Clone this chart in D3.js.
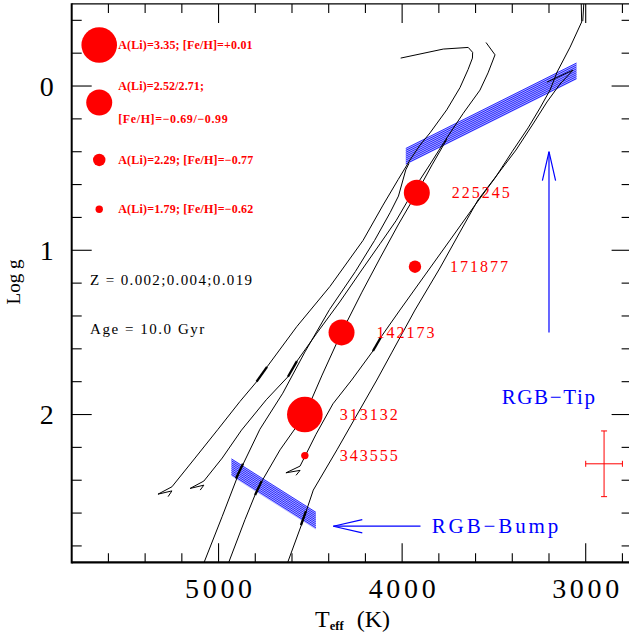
<!DOCTYPE html>
<html>
<head>
<meta charset="utf-8">
<script src="https://cdn.jsdelivr.net/npm/d3@7"></script>
<style>
  html, body { margin: 0; padding: 0; background: #fff; }
  svg { display: block; }
</style>
</head>
<body>
<svg id="chart" width="629" height="637"></svg>
<script>
// ---------------- data ----------------
// axis ticks
const xTickLabels = [5000, 4000, 3000];
const yTickLabels = [0, 1, 2];

// 10 Gyr isochrones, Z = 0.002 / 0.004 / 0.019, points as [Teff (K), log g]
const rgbZ002 = [[5100,2.96],[4980,2.62],[4887,2.35],[4775,2.09],[4650,1.87],[4530,1.62],[4395,1.36],[4255,1.13],[4150,0.94],[4065,0.77],[4020,0.67],[3980,0.51],[3962,0.47]];
const agbZ002 = [[5275,2.50],[5254,2.465],[5330,2.485],[5254,2.44],[5128,2.265],[5003,2.09],[4883,1.92],[4785,1.79],[4736,1.71],[4574,1.465],[4393,1.22],[4213,0.94],[4104,0.725],[4022,0.57],[3957,0.45],[3903,0.36],[3848,0.285],[3757,0.145],[3685,0.01],[3641,-0.10],[3617,-0.17],[3616,-0.205],[3640,-0.235],[3776,-0.225],[4008,-0.17]];
const rgbZ004 = [[4965,2.96],[4856,2.64],[4787,2.45],[4665,2.215],[4529,2.00],[4436,1.76],[4330,1.50],[4219,1.255],[4120,1.047],[4022,0.846],[3920,0.65],[3837,0.48],[3756,0.323]];
const agbZ004 = [[5100,2.46],[5080,2.43],[5155,2.45],[5080,2.405],[4980,2.265],[4875,2.095],[4740,1.91],[4622,1.77],[4573,1.675],[4465,1.505],[4340,1.315],[4220,1.12],[4120,0.96],[4033,0.82],[3973,0.705],[3914,0.59],[3854,0.487],[3799,0.39],[3750,0.305],[3667,0.166],[3576,0.025],[3532,-0.08],[3494,-0.19],[3543,-0.265]];
const rgbZ019 = [[4643,2.96],[4538,2.64],[4484,2.46],[4355,2.215],[4138,1.79],[4055,1.62],[3930,1.364],[3794,1.108],[3685,0.889],[3587,0.694],[3483,0.542],[3380,0.39],[3287,0.231],[3211,0.097],[3140,-0.012],[3069,-0.097],[3211,-0.024]];
const agbZ019 = [[4578,2.37],[4556,2.34],[4633,2.355],[4556,2.314],[4469,2.12],[4377,1.935],[4275,1.79],[4159,1.613],[4115,1.528],[4012,1.364],[3875,1.15],[3739,0.938],[3603,0.725],[3494,0.56],[3401,0.40],[3314,0.255],[3249,0.134],[3194,0.024],[3156,-0.085],[3085,-0.237],[3022,-0.39],[3026,-0.585],[3006,-0.585],[3016,-0.395]];

// RGB bump and AGB clump stretches, traced over more heavily
const bumpSegments = [
  [[4905,2.39],[4867,2.30]],
  [[4801,2.49],[4765,2.405]],
  [[4551,2.673],[4524,2.588]],
  [[4793,1.80],[4736,1.71]],
  [[4622,1.77],[4573,1.675]],
  [[4159,1.613],[4115,1.528]]
];

// predicted loci: RGB tip and RGB bump (upper edge at both ends, band depth in log g)
const tipBandTeff = [3980, 3050];
const tipBandLogg = [0.38, -0.14];
const tipBandDepth = 0.10;
const bumpBandTeff = [4930, 4470];
const bumpBandLogg = [2.27, 2.595];
const bumpBandDepth = 0.105;

// Li-rich stars
const starNames = ["225245", "171877", "142173", "313132", "343555"];
const starTeff  = [3920, 3930, 4330, 4530, 4530];
const starLogg  = [0.65, 1.10, 1.50, 2.00, 2.25];
const starClass = [1, 2, 1, 0, 3];   // row of the abundance key

// abundance key
const keyLi   = ["3.35", "2.52/2.71", "2.29", "1.79"];
const keyFeH  = ["+0.01", "\u22120.69/\u22120.99", "\u22120.77", "\u22120.62"];
const keyLogg = [-0.25, 0.10, 0.45, 0.75];
const keyTeff = 5650;

// model notes
const noteLines = ["Z = 0.002;0.004;0.019", "Age = 10.0 Gyr"];
const noteLogg  = [1.18, 1.48];
const noteTeff  = 5700;

// typical uncertainty
const errTeff = 2900, errLogg = 2.3, errDTeff = 100, errDLogg = 0.2;

// arrows and their labels
const tipArrowTeff = 3200, tipArrowLogg = [1.50, 0.40];      // tail, head
const bumpArrowLogg = 2.68, bumpArrowTeff = [3900, 4375];    // tail, head
const tipLabel  = {text: "RGB\u2212Tip",  teff: 3458, logg: 1.893};
const bumpLabel = {text: "RGB\u2212Bump", teff: 3839, logg: 2.681};

// ---------------- drawing ----------------
const W = 629, H = 637;
const serif = "'Liberation Serif', 'Times New Roman', serif";
const red = "#ff0000", blue = "#0000ff";

const svg = d3.select("#chart");
svg.append("rect").attr("width", W).attr("height", H).attr("fill", "#fff");

const x = d3.scaleLinear().domain([5800, 2750]).range([71.7, 631.6]);
const y = d3.scaleLinear().domain([-0.5, 2.9]).range([3.9, 562.35]);
const [xL, xR] = x.range();
const [yT, yB] = y.range();

svg.append("defs").append("clipPath").attr("id", "plotArea")
  .append("rect").attr("x", xL).attr("y", yT).attr("width", xR - xL).attr("height", yB - yT);

const plot = svg.append("g").attr("clip-path", "url(#plotArea)");

// hatched bands: pale blue body crossed by fine blue strokes
function hatchBand(teff, logg, depth) {
  const g = plot.append("g");
  const corners = [[teff[0], logg[0]], [teff[1], logg[1]], [teff[1], logg[1] + depth], [teff[0], logg[0] + depth]];
  g.append("path").attr("d", d3.line().x(d => x(d[0])).y(d => y(d[1]))(corners) + "Z")
    .attr("fill", "#b4b4ff").attr("stroke", "none");
  const offsets = d3.range(0, depth + 1e-6, 0.0118);
  g.selectAll("line").data(offsets).join("line")
    .attr("x1", x(teff[0])).attr("x2", x(teff[1]))
    .attr("y1", o => y(logg[0] + o)).attr("y2", o => y(logg[1] + o))
    .attr("stroke", blue).attr("stroke-width", 0.8);
}
hatchBand(tipBandTeff, tipBandLogg, tipBandDepth);
hatchBand(bumpBandTeff, bumpBandLogg, bumpBandDepth);

// isochrones
const line = d3.line().x(d => x(d[0])).y(d => y(d[1]));
[rgbZ002, agbZ002, rgbZ004, agbZ004, rgbZ019, agbZ019].forEach(track => {
  plot.append("path").attr("d", line(track))
    .attr("fill", "none").attr("stroke", "#000").attr("stroke-width", 1)
    .attr("stroke-linejoin", "round");
});
plot.selectAll("path.bump").data(bumpSegments).join("path").attr("class", "bump")
  .attr("d", line).attr("fill", "none").attr("stroke", "#000").attr("stroke-width", 2.3);

// symbol radius by abundance row
const radius = d3.scaleOrdinal().domain([0, 1, 2, 3]).range([17.8, 13, 6.2, 3.7]);

// stars
const starG = svg.append("g");
starNames.forEach((name, i) => {
  const cx = x(starTeff[i]), cy = y(starLogg[i]);
  starG.append("circle").attr("cx", cx).attr("cy", cy).attr("r", radius(starClass[i])).attr("fill", red);
  starG.append("text").attr("x", cx + 35).attr("y", cy).attr("dy", "0.34em")
    .attr("font-family", serif).attr("font-size", 16).attr("fill", red)
    .attr("textLength", 58).attr("lengthAdjust", "spacing")
    .text(name);
});

// abundance key
const keyWidths = [[134.3], [85.7, 109.4], [135], [135]];
keyLi.forEach((li, i) => {
  const cy = y(keyLogg[i]);
  svg.append("circle").attr("cx", x(keyTeff)).attr("cy", cy).attr("r", radius(i)).attr("fill", red);
  const rows = li.includes("/")
    ? [`A(Li)=${li};`, `[Fe/H]=${keyFeH[i]}`]
    : [`A(Li)=${li}; [Fe/H]=${keyFeH[i]}`];
  rows.forEach((t, k) => {
    const ty = rows.length === 1 ? cy : y(keyLogg[i] + (k === 0 ? -0.1 : 0.1));
    svg.append("text").attr("x", x(keyTeff) + 19).attr("y", ty).attr("dy", "0.34em")
      .attr("font-family", serif).attr("font-weight", "bold").attr("font-size", 12)
      .attr("fill", red).attr("textLength", keyWidths[i][k]).attr("lengthAdjust", "spacing")
      .text(t);
  });
});

// model notes
const noteWidths = [162, 114.3];
noteLines.forEach((t, i) => {
  svg.append("text").attr("x", x(noteTeff)).attr("y", y(noteLogg[i])).attr("dy", "0.34em")
    .attr("font-family", serif).attr("font-size", 15).attr("fill", "#000")
    .attr("textLength", noteWidths[i]).attr("lengthAdjust", "spacing")
    .text(t);
});

// arrows
function arrow(x1, y1, x2, y2) {
  const g = svg.append("g").attr("stroke", blue).attr("stroke-width", 1.2).attr("fill", "none");
  g.append("line").attr("x1", x1).attr("y1", y1).attr("x2", x2).attr("y2", y2);
  const ang = Math.atan2(y2 - y1, x2 - x1), len = 29, half = 6.6;
  const bx = x2 - len * Math.cos(ang), by = y2 - len * Math.sin(ang);
  const nx = -Math.sin(ang) * half, ny = Math.cos(ang) * half;
  g.append("path").attr("d", `M${bx + nx},${by + ny}L${x2},${y2}L${bx - nx},${by - ny}`);
}
arrow(x(tipArrowTeff), y(tipArrowLogg[0]), x(tipArrowTeff), y(tipArrowLogg[1]));
arrow(x(bumpArrowTeff[0]), y(bumpArrowLogg), x(bumpArrowTeff[1]), y(bumpArrowLogg));

[[tipLabel, 93.3], [bumpLabel, 126.6]].forEach(([lab, w]) => {
  svg.append("text").attr("x", x(lab.teff)).attr("y", y(lab.logg)).attr("dy", "0.33em")
    .attr("font-family", serif).attr("font-size", 21).attr("fill", blue)
    .attr("textLength", w).attr("lengthAdjust", "spacing")
    .text(lab.text);
});

// error cross
const eg = svg.append("g").attr("stroke", red).attr("stroke-width", 1);
const ex = x(errTeff), ey = y(errLogg);
const exa = x(errTeff + errDTeff), exb = x(errTeff - errDTeff);
const eya = y(errLogg - errDLogg), eyb = y(errLogg + errDLogg);
eg.append("line").attr("x1", exa).attr("x2", exb).attr("y1", ey).attr("y2", ey);
eg.append("line").attr("x1", ex).attr("x2", ex).attr("y1", eya).attr("y2", eyb);
[exa, exb].forEach(v => eg.append("line").attr("x1", v).attr("x2", v).attr("y1", ey - 3).attr("y2", ey + 3));
[eya, eyb].forEach(v => eg.append("line").attr("x1", ex - 3).attr("x2", ex + 3).attr("y1", v).attr("y2", v));

// frame
const fr = svg.append("g").attr("stroke", "#000");
fr.append("line").attr("x1", xL).attr("x2", xR).attr("y1", yT).attr("y2", yT).attr("stroke-width", 1.2);
fr.append("line").attr("x1", xR).attr("x2", xR).attr("y1", yT).attr("y2", yB).attr("stroke-width", 1.2);
fr.append("line").attr("x1", xL).attr("x2", xR).attr("y1", yB).attr("y2", yB).attr("stroke-width", 2.2);
fr.append("line").attr("x1", xL).attr("x2", xL).attr("y1", yT - 0.6).attr("y2", yB + 1.1).attr("stroke-width", 2);

// ticks
const tk = svg.append("g").attr("stroke", "#000").attr("stroke-width", 1.1);
d3.range(2800, 5800, 200).forEach(t => {
  const major = t % 1000 === 0, len = major ? 19 : 9, px = x(t);
  tk.append("line").attr("x1", px).attr("x2", px).attr("y1", yB).attr("y2", yB - len);
  tk.append("line").attr("x1", px).attr("x2", px).attr("y1", yT).attr("y2", yT + len);
});
d3.range(-2, 15).map(i => i * 0.2).forEach(v => {
  const major = Math.abs(v - Math.round(v)) < 1e-6, len = major ? 20 : 10, py = y(v);
  tk.append("line").attr("x1", xL).attr("x2", xL + len).attr("y1", py).attr("y2", py);
  tk.append("line").attr("x1", xR).attr("x2", xR - len).attr("y1", py).attr("y2", py);
});

// tick labels
xTickLabels.forEach(t => {
  svg.append("text").attr("x", x(t)).attr("y", 598).attr("text-anchor", "middle")
    .attr("font-family", serif).attr("font-size", 28).attr("fill", "#000")
    .attr("textLength", 67).attr("lengthAdjust", "spacing").text(t);
});
yTickLabels.forEach(v => {
  svg.append("text").attr("x", 46.7).attr("y", y(v)).attr("dy", "0.34em").attr("text-anchor", "middle")
    .attr("font-family", serif).attr("font-size", 28).attr("fill", "#000").text(v);
});

// axis titles
svg.append("text").attr("transform", "translate(14,282) rotate(-90)")
  .attr("text-anchor", "middle").attr("dy", "0.3em")
  .attr("font-family", serif).attr("font-size", 19).attr("fill", "#000").text("Log g");

const xt = svg.append("text").attr("x", 315).attr("y", 626.5)
  .attr("font-family", serif).attr("font-size", 24).attr("fill", "#000");
xt.append("tspan").text("T");
xt.append("tspan").attr("dy", 3.5).attr("font-size", 12.5).attr("font-weight", "bold").text("eff");
xt.append("tspan").attr("x", 356.7).attr("dy", -3.5).text("(K)");
</script>
</body>
</html>
